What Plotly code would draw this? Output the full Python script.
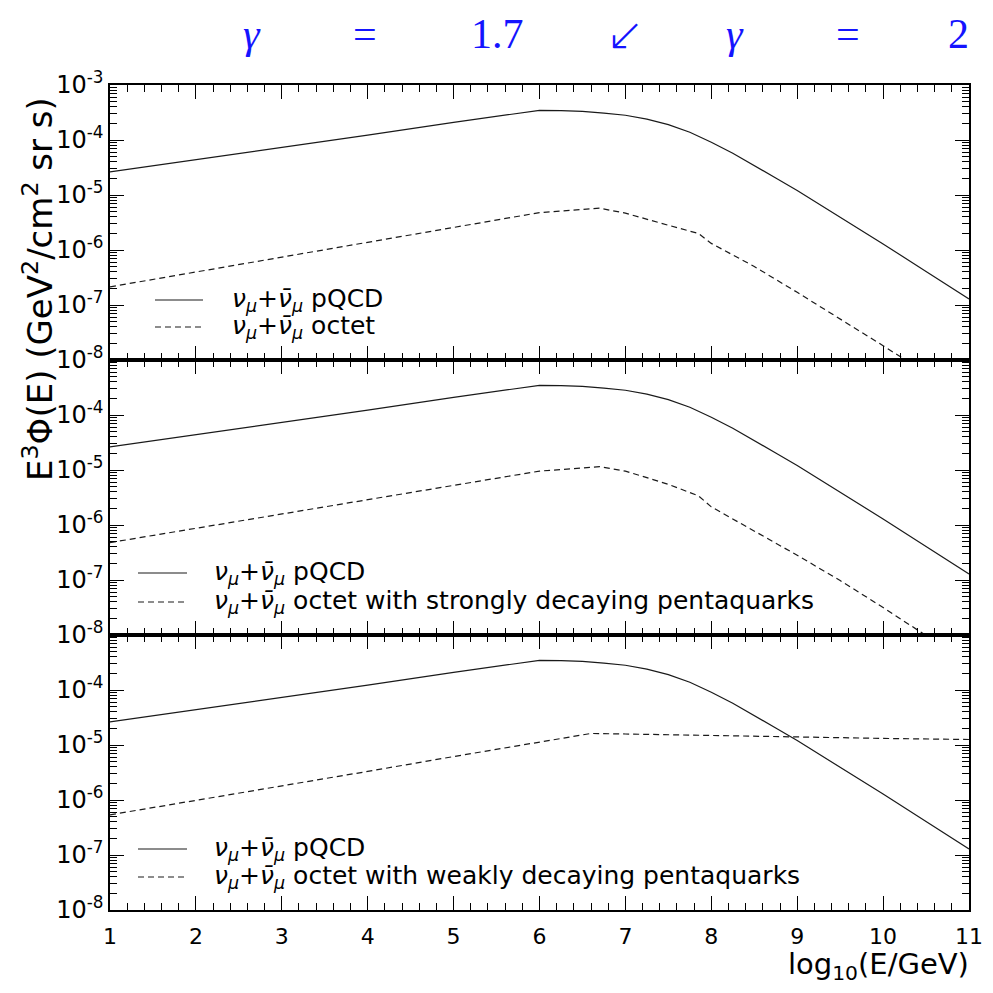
import plotly.graph_objects as go

# ---------------- data (log10 of E^3 Phi) ----------------
x_pqcd = [1, 2, 3, 4, 5, 6, 6.25, 6.5, 6.75, 7, 7.25, 7.5, 7.75, 8, 8.25, 8.5,
          8.75, 9, 9.5, 10, 10.5, 11]
y_pqcd = [-4.58, -4.36, -4.13, -3.91, -3.68, -3.46, -3.465, -3.48, -3.51, -3.55,
          -3.62, -3.72, -3.86, -4.04, -4.24, -4.46, -4.69, -4.92, -5.40, -5.89,
          -6.39, -6.89]

x_octet = [1, 2, 3, 4, 5, 6, 6.7, 7.0, 7.5, 7.85, 8.0, 8.5, 9.0, 9.5, 10.0, 10.5]
y_octet = [-6.67, -6.40, -6.13, -5.86, -5.59, -5.32, -5.24, -5.33, -5.55, -5.70,
           -5.88, -6.30, -6.77, -7.25, -7.74, -8.24]

x_strong = [1, 2, 3, 4, 5, 6, 6.7, 7.0, 7.5, 7.85, 8.0, 8.5, 9.0, 9.5, 10.0, 10.5, 11]
y_strong = [-6.32, -6.06, -5.80, -5.54, -5.28, -5.02, -4.94, -5.02, -5.26, -5.47,
            -5.67, -6.11, -6.55, -7.01, -7.50, -8.01, -8.50]

x_weak = [1, 2, 3, 4, 5, 6, 6.6, 7, 8, 9, 10, 11]
y_weak = [-6.27, -6.01, -5.74, -5.48, -5.21, -4.95, -4.79, -4.80, -4.83, -4.855,
          -4.88, -4.90]

x_ticks = [1, 2, 3, 4, 5, 6, 7, 8, 9, 10, 11]
y_exps_top = [-8, -7, -6, -5, -4, -3]
y_exps = [-8, -7, -6, -5, -4]

nu = "<i>ν</i><sub><i>μ</i></sub>+<i>ν̄</i><sub><i>μ</i></sub>"
leg_pqcd = nu + " pQCD"
leg_octet = [nu + " octet",
             nu + " octet with strongly decaying pentaquarks",
             nu + " octet with weakly decaying pentaquarks"]

title_tokens = ["<i>γ</i>", "=", "1.7", "↙", "<i>γ</i>", "=", "2"]
title_px = [252, 365, 498, 625, 735, 848, 958]
title_size = [42, 42, 42, 46, 42, 42, 42]
title_font = ["Liberation Serif"] * 3 + ["DejaVu Sans ExtraLight, DejaVu Sans Light, DejaVu Sans"] + ["Liberation Serif"] * 3

# browser page has an 8px body margin: keep the figure inside the window
OFF = 8
W = H = 993 - 2 * OFF
FONT = "DejaVu Sans"
LINE = "#1a1a1a"
DASH = "6px,4px"


def py(p):
    return 1 - (p - OFF) / H


def px(p):
    return (p - OFF) / W


panels = [(85, 360), (360, 635), (635, 910)]
xdom = [px(110), px(969)]

dashed = [(x_octet, y_octet), (x_strong, y_strong), (x_weak, y_weak)]

fig = go.Figure()
for i in range(3):
    sfx = "" if i == 0 else str(i + 1)
    fig.add_trace(go.Scatter(
        x=x_pqcd, y=[10 ** v for v in y_pqcd], mode="lines",
        line=dict(color=LINE, width=1.2), xaxis="x" + sfx, yaxis="y" + sfx,
        showlegend=False, hoverinfo="skip"))
    dx, dy = dashed[i]
    fig.add_trace(go.Scatter(
        x=dx, y=[10 ** v for v in dy], mode="lines",
        line=dict(color=LINE, width=1.2, dash=DASH), xaxis="x" + sfx, yaxis="y" + sfx,
        showlegend=False, hoverinfo="skip"))

minor_vals = [m * 10 ** e for e in range(-8, -3) for m in range(2, 10)]

layout = dict(
    width=W, height=H, margin=dict(l=0, r=0, t=0, b=0, autoexpand=False),
    paper_bgcolor="white", plot_bgcolor="white",
    font=dict(family=FONT, color="black"),
)

for i, (top, bot) in enumerate(panels):
    sfx = "" if i == 0 else str(i + 1)
    exps = y_exps_top if i == 0 else y_exps
    layout["xaxis" + sfx] = dict(
        domain=xdom, range=[1, 11], anchor="y" + sfx, automargin=False,
        showline=True, linecolor="black", linewidth=2, mirror="allticks",
        ticks="inside", ticklen=14, tickwidth=1, tickcolor="black",
        tickmode="array", tickvals=x_ticks, ticktext=[str(v) for v in x_ticks],
        showticklabels=(i == 2), tickfont=dict(size=22, family=FONT),
        ticklabelstandoff=6,
        showgrid=False, zeroline=False,
        minor=dict(ticks="inside", ticklen=7, tickwidth=1, tickcolor="black",
                   dtick=0.2, showgrid=False),
    )
    layout["yaxis" + sfx] = dict(
        domain=[py(bot), py(top)], type="log", range=[-8, -3], anchor="x" + sfx,
        automargin=False,
        showline=True, linecolor="black", linewidth=1.5, mirror="allticks",
        ticks="inside", ticklen=14, tickwidth=1, tickcolor="black",
        tickmode="array", tickvals=[10 ** e for e in exps],
        ticktext=["10<sup>-%d</sup>" % (-e) for e in exps],
        tickfont=dict(size=24, family=FONT),
        showgrid=False, zeroline=False,
        minor=dict(ticks="inside", ticklen=7, tickwidth=1, tickcolor="black",
                   tickmode="array", tickvals=minor_vals, showgrid=False),
    )

fig.update_layout(**layout)

# legend samples and texts
leg_geo = [
    dict(x0=155, x1=203, ys=300, yd=327, tx=230),
    dict(x0=138, x1=187, ys=573, yd=602, tx=212),
    dict(x0=138, x1=187, ys=849, yd=877, tx=212),
]
for i, g in enumerate(leg_geo):
    fig.add_shape(type="line", xref="paper", yref="paper",
                  x0=px(g["x0"]), x1=px(g["x1"]), y0=py(g["ys"]), y1=py(g["ys"]),
                  line=dict(color=LINE, width=1.2))
    fig.add_shape(type="line", xref="paper", yref="paper",
                  x0=px(g["x0"]), x1=px(g["x1"]), y0=py(g["yd"]), y1=py(g["yd"]),
                  line=dict(color=LINE, width=1.2, dash=DASH))
    fig.add_annotation(text=leg_pqcd, xref="paper", yref="paper",
                       x=px(g["tx"]), y=py(g["ys"]), xanchor="left", yanchor="middle",
                       showarrow=False, font=dict(size=25, family=FONT, color="black"))
    fig.add_annotation(text=leg_octet[i], xref="paper", yref="paper",
                       x=px(g["tx"]), y=py(g["yd"]), xanchor="left", yanchor="middle",
                       showarrow=False, font=dict(size=25, family=FONT, color="black"))

# title tokens
for t, xp, fs, ff in zip(title_tokens, title_px, title_size, title_font):
    fig.add_annotation(text=t, xref="paper", yref="paper", x=px(xp), y=py(34),
                       xanchor="center", yanchor="middle", showarrow=False,
                       borderpad=0,
                       font=dict(size=fs, family=ff, color="#1414ff"))

# axis titles
fig.add_annotation(text="E<sup>3</sup>Φ(E) (GeV<sup>2</sup>/cm<sup>2</sup> sr s)",
                   xref="paper", yref="paper", x=px(38), y=py(289),
                   xanchor="center", yanchor="middle", textangle=-90, showarrow=False,
                   font=dict(size=34, family=FONT, color="black"))
fig.add_annotation(text="log<sub>10</sub>(E/GeV)", xref="paper", yref="paper",
                   x=px(970), y=py(966), xanchor="right", yanchor="middle",
                   showarrow=False, borderpad=0,
                   font=dict(size=29, family=FONT, color="black"))

fig.write_html("out.html")
